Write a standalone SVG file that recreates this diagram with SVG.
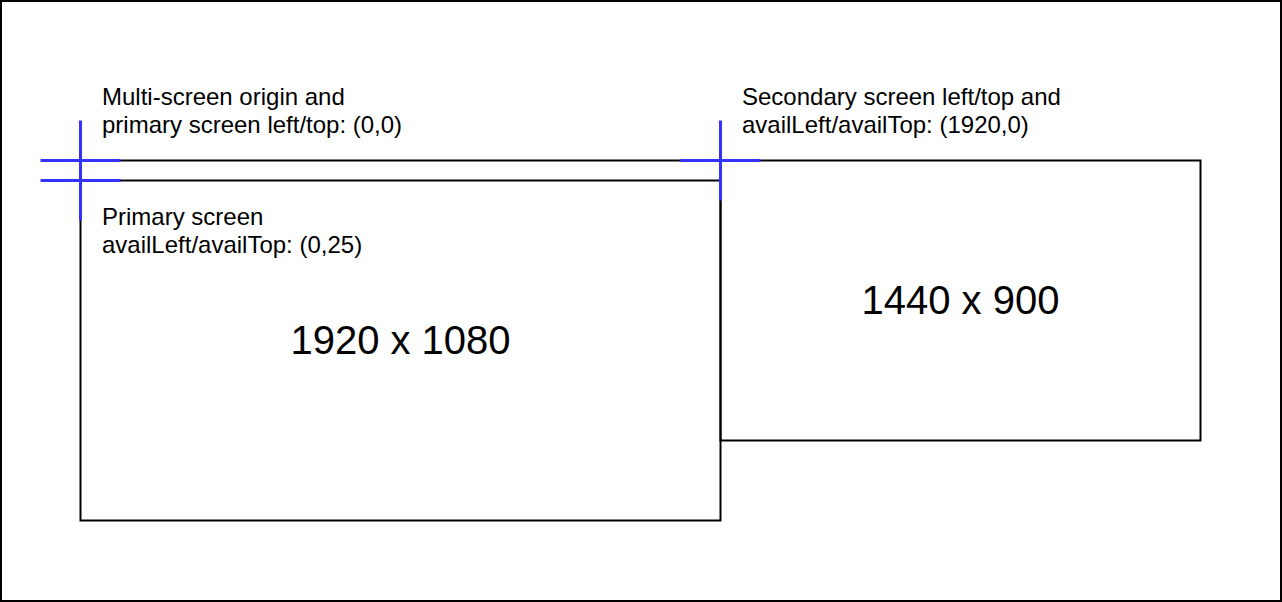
<svg xmlns="http://www.w3.org/2000/svg" width="1282" height="602" viewBox="0 0 1282 602">
  <style>
    .frame { fill: #ffffff; stroke: #000000; stroke-width: 2; }
    .screen { fill: none; stroke: #000000; stroke-width: 2; }
    .cross { fill: none; stroke: #3333ff; stroke-width: 3; }
    .label { font-family: "Liberation Sans", Arial, Helvetica, sans-serif; font-size: 24px; fill: #000000; }
    .size { font-family: "Liberation Sans", Arial, Helvetica, sans-serif; font-size: 40px; fill: #000000; text-anchor: middle; }
  </style>
  <rect class="frame" x="1" y="1" width="1280" height="600"/>

  <g id="primary-screen">
    <rect class="screen" x="80.5" y="160.5" width="640" height="360"/>
    <line class="screen" x1="80.5" y1="180.5" x2="720.5" y2="180.5"/>
    <text class="size" x="400.5" y="354">1920 x 1080</text>
  </g>

  <g id="secondary-screen">
    <rect class="screen" x="720.5" y="160.5" width="480" height="280"/>
    <text class="size" x="960.5" y="314">1440 x 900</text>
  </g>

  <g id="origin-label">
    <text class="label" x="102" y="104.5">Multi-screen origin and</text>
    <text class="label" x="102" y="132.5">primary screen left/top: (0,0)</text>
  </g>

  <g id="primary-avail-label">
    <text class="label" x="102" y="224.5">Primary screen</text>
    <text class="label" x="102" y="252.5">availLeft/availTop: (0,25)</text>
  </g>

  <g id="secondary-label">
    <text class="label" x="742" y="104.5">Secondary screen left/top and</text>
    <text class="label" x="742" y="132.5">availLeft/availTop: (1920,0)</text>
  </g>

  <g id="connectors">
    <g id="origin-cross">
      <line class="cross" x1="80.5" y1="120.5" x2="80.5" y2="220.5"/>
      <line class="cross" x1="40.5" y1="160.5" x2="120.5" y2="160.5"/>
      <line class="cross" x1="40.5" y1="180.5" x2="120.5" y2="180.5"/>
    </g>
    <g id="secondary-cross">
      <line class="cross" x1="720.5" y1="120.5" x2="720.5" y2="200.5"/>
      <line class="cross" x1="680.5" y1="160.5" x2="760.5" y2="160.5"/>
    </g>
  </g>
</svg>
